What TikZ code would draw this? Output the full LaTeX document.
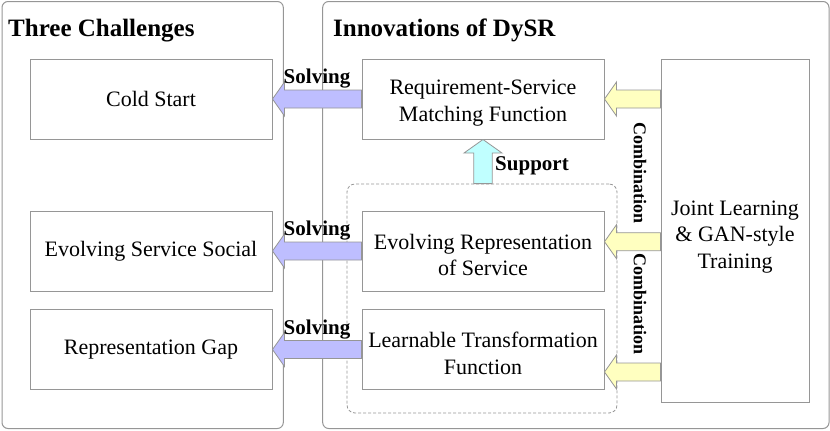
\documentclass[tikz,border=0pt]{standalone}
\usepackage{fontspec}
\setmainfont{Liberation Serif}
\usetikzlibrary{calc}
\usetikzlibrary{positioning}

\definecolor{linegray}{RGB}{150,150,150}
\definecolor{solvefill}{RGB}{190,190,255}
\definecolor{combfill}{RGB}{255,255,192}
\definecolor{supfill}{RGB}{192,255,255}

\begin{document}
\begin{tikzpicture}[x=1pt,y=-1pt,
	panel/.style={draw=linegray,line width=1pt,rounded corners=6pt},
	box/.style={draw=linegray,line width=1pt,fill=white,minimum width=242pt,minimum height=80pt,align=center,inner sep=0pt,font=\fontsize{22}{26.5}\selectfont},
	title/.style={anchor=west,inner sep=0pt,font=\fontsize{25}{30}\selectfont\bfseries},
	lab/.style={inner sep=0pt,font=\fontsize{21}{25}\selectfont\bfseries},
	comb/.style={inner sep=0pt,rotate=-90,font=\fontsize{18}{22}\selectfont\bfseries},
	fat/.style={draw=linegray,line width=0.8pt,line join=miter}]
\def\fatleft#1#2#3{\filldraw[fat,fill=#1] ($(#2)+(0,-9)$) -- ($(#3)+(12,-9)$) -- ($(#3)+(12,-17)$) -- (#3) -- ($(#3)+(12,17)$) -- ($(#3)+(12,9)$) -- ($(#2)+(0,9)$) -- cycle;}
\def\lift#1{\rule{0pt}{#1}}

\useasboundingbox (0,0) rectangle (830,431);

\draw[panel] (2,1.5) rectangle (283.3,428.5);
\draw[panel] (322.7,1.5) rectangle (829,428.5);

\node[title] (lefttitle) at (8,31) {Three Challenges};
\node[title] (righttitle) at (333,30) {Innovations of DySR};

\node[draw=linegray,line width=0.8pt,dash pattern=on 3pt off 2pt,rounded corners=8pt,minimum width=270pt,minimum height=229pt] (group) at (482,298.5) {};

\node[box] (cold) at (151,99) {Cold Start};
\node[box] (social) at (151,251) {Evolving Service Social};
\node[box] (gap) at (151,349.5) {Representation Gap};

\node[box] (match) at (483,99) {\lift{23pt}Requirement-Service\\Matching Function};
\node[box] (evolve) at (483,251) {\lift{23pt}Evolving Representation\\of Service};
\node[box] (transform) at (483,349.5) {\lift{23pt}Learnable Transformation\\Function};

\node[box,minimum width=148pt,minimum height=343pt] (joint) at (735,230.5) {\lift{27pt}Joint Learning\\\& GAN-style\\Training};

\fatleft{solvefill}{match.west}{cold.east}
\fatleft{solvefill}{evolve.west}{social.east}
\fatleft{solvefill}{transform.west}{gap.east}

\coordinate (tip2) at ($(evolve.east)+(0,-9.3)$);
\coordinate (tail2) at (joint.west |- tip2);
\coordinate (tip3) at ($(transform.south east)+(0,-18)$);
\coordinate (tail3) at (joint.west |- tip3);

\fatleft{combfill}{joint.west |- match.east}{match.east}
\fatleft{combfill}{tail2}{tip2}
\fatleft{combfill}{tail3}{tip3}

\coordinate (suptail) at (match.south |- group.north);
\filldraw[fat,fill=supfill] ($(suptail)+(-9.2,0)$) -- ($(match.south)+(-9.2,13.5)$) -- ($(match.south)+(-19,13.5)$) -- (match.south) -- ($(match.south)+(19,13.5)$) -- ($(match.south)+(9.2,13.5)$) -- ($(suptail)+(9.2,0)$) -- cycle;

\node[lab] (solve1) at ($(cold.east)!0.5!(match.west)+(0,-20)$) {Solving};
\node[lab] (solve2) at ($(social.east)!0.5!(evolve.west)+(0,-20)$) {Solving};
\node[lab] (solve3) at ($(gap.east)!0.5!(transform.west)+(0,-20)$) {Solving};
\node[lab] (support) at (532,166) {Support};

\node[comb] (comb1) at (640,173) {Combination};
\node[comb] (comb2) at (640,304) {Combination};

\end{tikzpicture}
\end{document}
